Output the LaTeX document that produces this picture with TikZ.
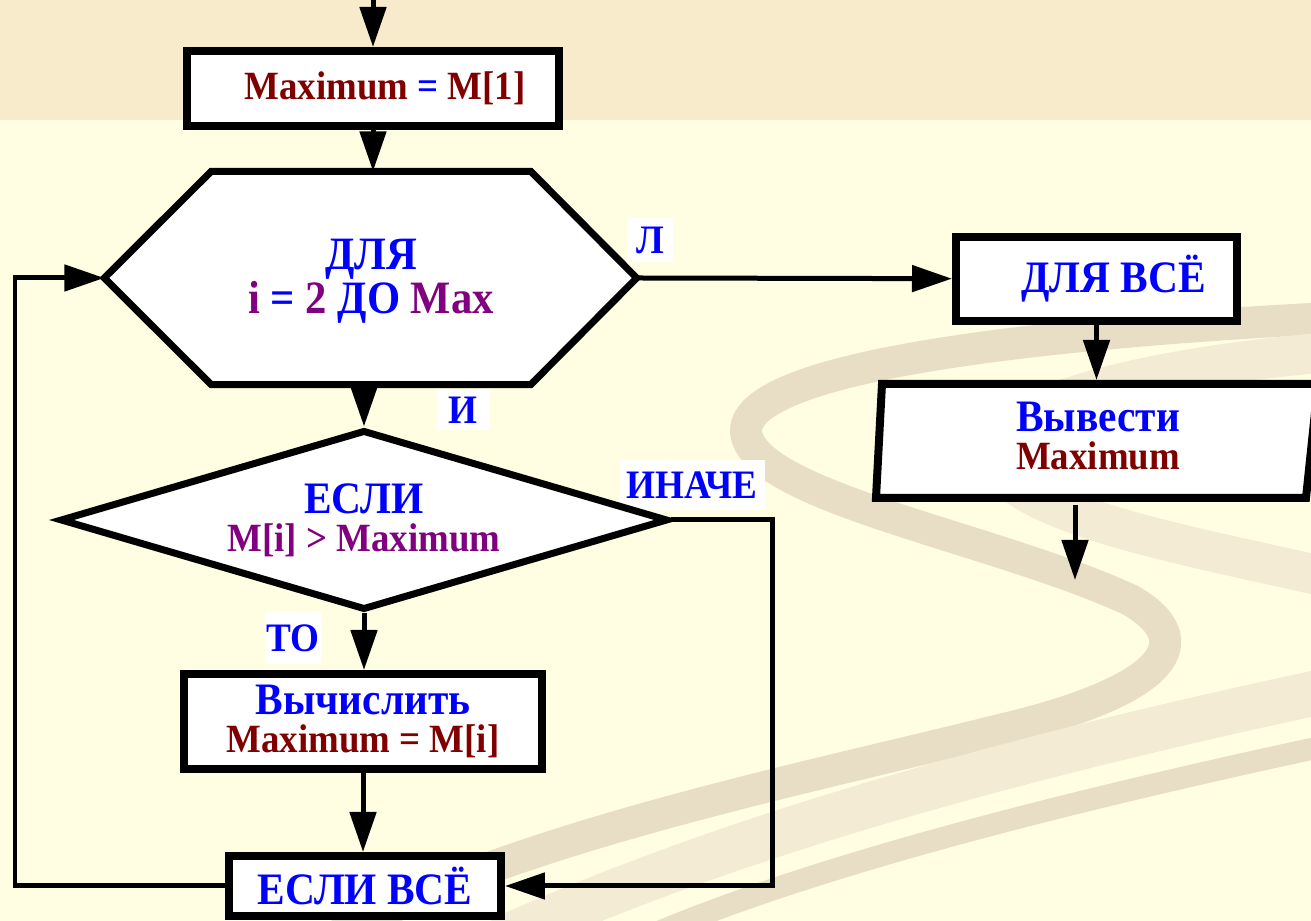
\documentclass[tikz,border=0pt]{standalone}
\usepackage{fontspec}
\setmainfont{Liberation Serif}[FakeStretch=0.92]
\usetikzlibrary{arrows.meta,shapes.geometric,positioning}

\definecolor{kwblue}{RGB}{0,0,255}
\definecolor{varred}{RGB}{128,0,0}
\definecolor{condpurple}{RGB}{128,0,128}
\definecolor{bandtop}{RGB}{247,235,204}
\definecolor{paper}{RGB}{255,254,227}
\definecolor{swirl}{RGB}{232,222,198}
\definecolor{swirllight}{RGB}{243,235,211}

\newcommand{\kwfont}{\bfseries\fontsize{12.8}{12}\selectfont}
\newcommand{\varfont}{\bfseries\fontsize{11.4}{12}\selectfont}
\newcommand{\loopfont}{\bfseries\fontsize{13.2}{12}\selectfont}

\tikzset{
  block/.style={draw, line width=0.8mm, fill=white, inner sep=0pt, align=center},
  flow/.style={line width=0.5mm, -{Triangle[length=4mm,width=2.6mm]}},
  tag/.style={fill=white, text=kwblue, inner sep=0pt, font=\bfseries\fontsize{11.5}{12}\selectfont},
}

\begin{document}
\begin{tikzpicture}[x=0.1mm, y=-0.1mm]
    % Background
    \fill[paper] (0,0) rectangle (1311,921);
    \fill[bandtop] (0,0) rectangle (1311,120);
    \useasboundingbox (0,0) rectangle (1311,921);
    % Swirl
    \draw[swirl, line width=3.2mm] (1330,318) .. controls (1000,335) and (720,372) .. (748,440)
        .. controls (772,500) and (1000,540) .. (1130,600)
        .. controls (1200,640) and (1170,690) .. (1000,730)
        .. controls (800,780) and (500,840) .. (330,940);
    \draw[swirllight, line width=4mm] (1330,352) .. controls (1100,372) and (960,420) .. (1000,470)
        .. controls (1040,520) and (1200,548) .. (1330,578);
    \draw[swirllight, line width=4.5mm] (1330,690) .. controls (1000,760) and (720,840) .. (500,940);
    \draw[swirl, line width=2.2mm] (1330,745) .. controls (1050,805) and (800,870) .. (640,940);

    % Labels
    \node[tag, minimum width=4.6mm, minimum height=4.4mm] (lblfalse) at (650,240) {Л};
    \node[tag, minimum width=5.3mm, minimum height=4mm] (lbltrue) at (463,410) {И};
    \node[tag, minimum width=14.5mm, minimum height=5mm] (lblelse) at (692,485) {ИНАЧЕ};
    \node[tag, minimum width=5.7mm, minimum height=5.3mm] (lblthen) at (293,638) {ТО};

    % Start
    \coordinate (start) at (373,-5);
    \node[block, minimum width=37.2mm, minimum height=7.5mm] (init) at (373,88.5)
        {\hspace*{2.4mm}\varfont\textcolor{varred}{Maximum} \textcolor{kwblue}{=} \textcolor{varred}{M[1]}};

    % Loop
    \path (370.5,278) node[minimum width=53.1mm, minimum height=21.2mm, inner sep=0pt] (loop) {};
    \draw[line width=0.7mm, fill=white] ([xshift=10.7mm]loop.north west) -- ([xshift=-10.6mm]loop.north east)
        -- (loop.east) -- ([xshift=-10.6mm]loop.south east) -- ([xshift=10.7mm]loop.south west) -- (loop.west) -- cycle;
    \node[align=center, font=\bfseries\fontsize{12}{12.4}\selectfont] (looptxt) at (371,281)
        {{\loopfont\color{kwblue}ДЛЯ}\\{\loopfont\textcolor{condpurple}{i} \textcolor{kwblue}{=} \textcolor{condpurple}{2} \textcolor{kwblue}{ДО} \textcolor{condpurple}{Max}}};

    % Condition
    \node[draw, diamond, shape aspect=3.4, line width=0.7mm, fill=white, minimum width=60.8mm,
        minimum height=18mm, inner sep=0pt, align=center, font=\bfseries\fontsize{11.4}{10.8}\selectfont] (cond) at (364,520)
        {{\kwfont\color{kwblue}ЕСЛИ}\\{\varfont\color{condpurple}M[i] > Maximum}};

    % Then
    \node[block, minimum width=35.9mm, minimum height=9.5mm] (calc) at (363,721.5)
        {{\kwfont\color{kwblue}Вычислить}\\[-0.5mm]{\varfont\color{varred}Maximum = M[i]}};
    \node[block, minimum width=27.2mm, minimum height=6mm] (endif) at (365,886)
        {\kwfont\color{kwblue}ЕСЛИ ВСЁ};

    % After loop
    \node[block, minimum width=28.1mm, minimum height=8.4mm] (endloop) at (1096.5,279)
        {\hspace*{3.4mm}\kwfont\color{kwblue}ДЛЯ ВСЁ};
    \path (1094,441) node[minimum width=43.6mm, minimum height=11.4mm, inner sep=0pt, outer sep=0pt] (out) {};
    \draw[line width=0.8mm, fill=white] ([xshift=0.6mm]out.north west) -- ([xshift=0.6mm]out.north east)
        -- ([xshift=-0.6mm]out.south east) -- (out.south west) -- cycle;
    \node[align=center, font=\bfseries\fontsize{11.4}{10.8}\selectfont] (outtxt) at (1098,436)
        {{\kwfont\color{kwblue}Вывести}\\{\varfont\color{varred}Maximum}};
    \coordinate (finish) at (1075,580);
    \path (out.south -| finish) ++(0,7) coordinate (outexit);

    % Connectors
    \draw[flow] (start) -- (init);
    \draw[flow] (init) -- (init |- loop.north);
    \draw[flow] (loop.east) -- (endloop);
    \draw[flow] (loop.south -| cond.north) -- (cond.north);
    \draw[flow] (cond.south) -- (cond.south |- calc.north);
    \draw[flow] (calc) -- (calc |- endif.north);
    \coordinate (elsecorner) at (772,520);
    \draw[flow] (cond.east) -- (elsecorner) |- (endif.east);
    \coordinate (back) at (15,886);
    \draw[flow] (endif.west) -- (back) |- (loop.west);
    \draw[flow] (endloop.south) -- ([yshift=0.4mm]endloop.south |- out.north);
    \draw[flow] (outexit) -- (finish);
\end{tikzpicture}
\end{document}
